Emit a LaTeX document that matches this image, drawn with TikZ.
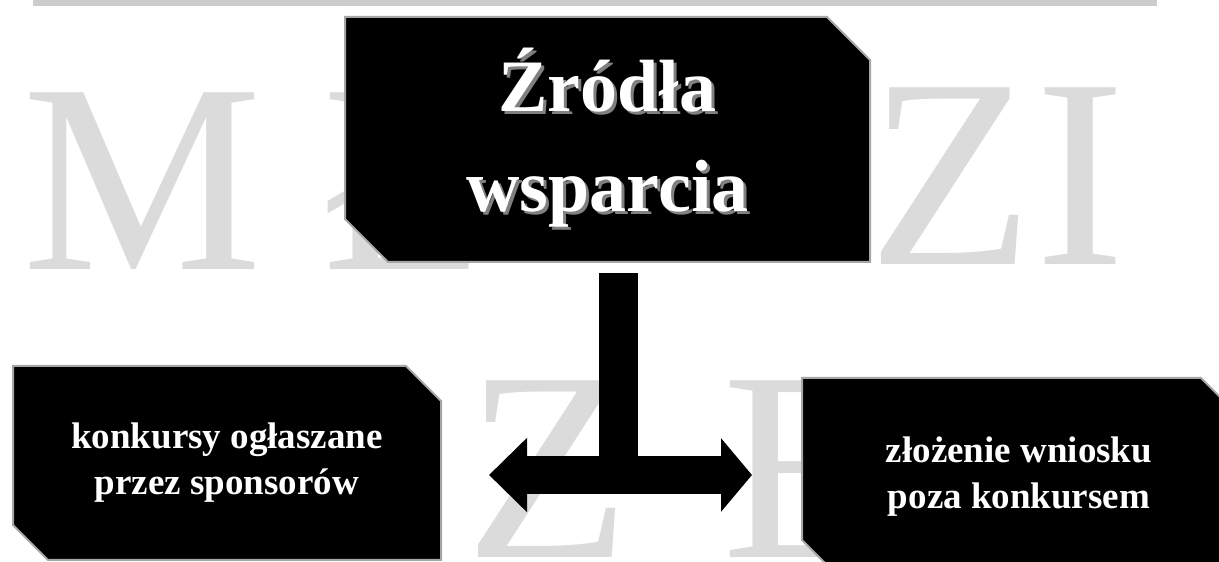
\documentclass[tikz,border=0pt]{standalone}
\usepackage{fontspec}
\setmainfont{Liberation Serif}
\usetikzlibrary{shapes.misc,arrows.meta,positioning}

\tikzset{
  cutbox/.style={chamfered rectangle , chamfered rectangle corners={north east,south west} ,
    chamfered rectangle angle=45 , fill=black , draw=gray!70 , line width=2pt ,
    text=white , align=center , inner sep=0pt ,
    font=\bfseries\fontsize{37}{46}\selectfont},
  wmark/.style={text=black!14 , inner sep=0pt , anchor=base west ,
    font=\fontsize{270}{270}\selectfont},
  bigarrow/.style={line width=38pt , arrows={Triangle[length=38pt,width=72pt]-Triangle[length=31pt,width=72pt]}},
}
\newcommand{\shadtxt}[1]{\leavevmode\rlap{\kern3pt\raisebox{-3pt}{\textcolor{gray}{#1}}}#1}

\begin{document}
\begin{tikzpicture}[x=1pt , y=1pt]
  \useasboundingbox (0,0) rectangle (1219,562);
  \clip (0,0) rectangle (1219,562);
  \fill[white] (0,0) rectangle (1219,562);
  % watermark in the background
  \fill[black!20] (33,556) rectangle (1157,562);
  \node[wmark] (wm) at (22,292) {M};
  \node[wmark] (wl) at (322,292) {Ł};
  \node[wmark] (wz) at (868,297) {Z};
  \node[wmark] (wi) at (1035,297) {I};
  \node[wmark] (wz2) at (465,4) {Z};
  \node[wmark] (we) at (722,4) {E};
  % boxes
  \node[cutbox , minimum width=525pt , minimum height=245pt , chamfered rectangle xsep=40pt ,
    font=\bfseries\fontsize{74}{100}\selectfont] (src) at (607.5,422.5)
    {\shadtxt{Źródła}\\\shadtxt{wsparcia}};
  \node[cutbox , minimum width=428pt , minimum height=194pt , chamfered rectangle xsep=32pt] (comp) at (227,99)
    {konkursy ogłaszane\\przez sponsorów};
  \node[cutbox , minimum width=434pt , minimum height=197pt , chamfered rectangle xsep=32pt] (appl) at (1019,85.5)
    {złożenie wniosku\\poza konkursem};
  % T-shaped double arrow
  \coordinate (stem) at (618.5,289);
  \coordinate (ltip) at (489,87);
  \coordinate (rtip) at (752,87);
  \draw[line width=39pt] (stem) -- (stem |- 0,69);
  \draw[bigarrow] (ltip) -- (rtip);
\end{tikzpicture}
\end{document}
